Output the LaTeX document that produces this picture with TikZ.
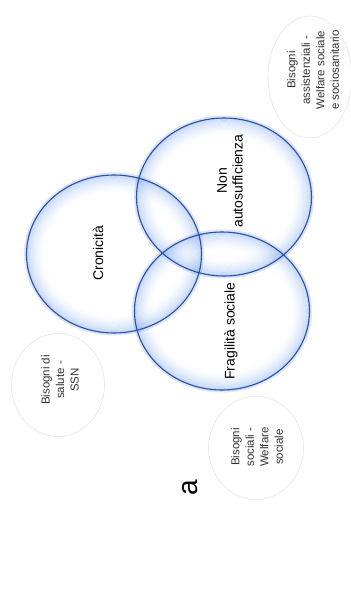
\documentclass[tikz,border=0pt]{standalone}
\usepackage{fontspec}
\setmainfont{Liberation Sans}
\usetikzlibrary{positioning, shapes.geometric}

\definecolor{ringline}{RGB}{45,80,165}
\definecolor{ringblue}{RGB}{100,150,235}
\definecolor{needline}{RGB}{228,228,228}

\begin{document}
\begin{tikzpicture}[
    x=1pt, y=-1pt,
    circ/.style={draw=ringline, line width=1.1pt, ellipse, inner sep=0pt,
                 minimum width=175pt, minimum height=158pt},
    need/.style={draw=needline, line width=0.6pt, ellipse, inner sep=0pt},
    lbl/.style={rotate=90, align=center, font=\fontsize{14}{16}\selectfont},
    smalllbl/.style={rotate=90, align=center, text=black!80, font=\fontsize{11.5}{14.5}\selectfont}
]
    \useasboundingbox (0,0) rectangle (351,603);

    \coordinate (cronc) at (114,254);
    \coordinate (nonautoc) at (224,197);
    \coordinate (fragilc) at (222,311);

    % shaded rims, strongest at the edge
    \foreach \c in {cronc, nonautoc, fragilc} {
        \draw[ringblue, line width=3pt, draw opacity=0.25] (\c) ellipse [x radius=88.5, y radius=80];
        \foreach \k [evaluate=\k as \op using {0.34*(1-\k/16)^2},
                     evaluate=\k as \rx using {87-1.3*\k},
                     evaluate=\k as \ry using {78.5-1.3*\k}] in {0,...,15}
            \draw[ringblue, line width=1.4pt, draw opacity=\op] (\c) ellipse [x radius=\rx, y radius=\ry];
    }

    % the three overlapping sets
    \node[circ] (cron) at (cronc) {};
    \node[circ] (nonauto) at (nonautoc) {};
    \node[circ] (fragil) at (fragilc) {};

    \node[lbl] (cronlbl) at (98,253) {Cronicità};
    \node[lbl] (nonautolbl) at (230,181) {Non\\autosufficienza};
    \node[lbl] (fragillbl) at (231,331) {Fragilità sociale};

    % needs around
    \node[need, minimum width=84pt, minimum height=122pt] (assist) at (310,77) {};
    \node[need, minimum width=93pt, minimum height=103pt] (salute) at (58,385) {};
    \node[need, minimum width=95pt, minimum height=103pt] (sociali) at (256,448) {};

    \node[smalllbl] (assistlbl) at (313,70) {Bisogni\\assistenziali -\\Welfare sociale\\e sociosanitario};
    \node[smalllbl] (salutelbl) at (60,380) {Bisogni di\\salute -\\SSN};
    \node[smalllbl] (socialilbl) at (257,447) {Bisogni\\sociali -\\Welfare\\sociale};

    \node[rotate=90, font=\fontsize{28}{30}\selectfont] (tag) at (190,488) {a};
\end{tikzpicture}
\end{document}
